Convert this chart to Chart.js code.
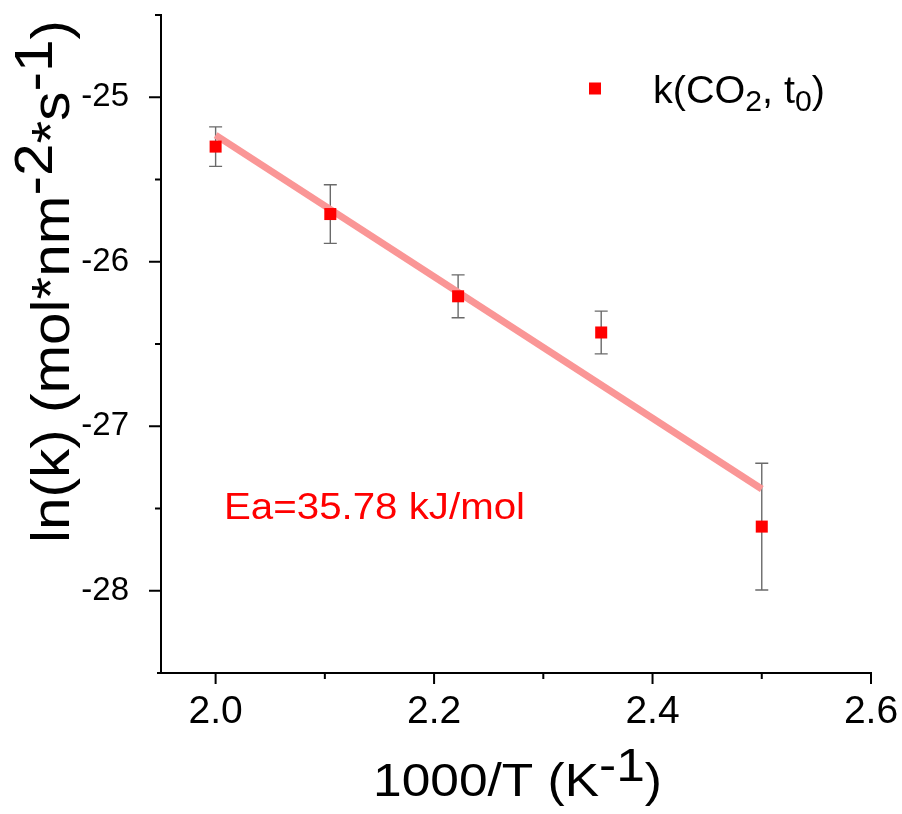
<!DOCTYPE html>
<html>
<head>
<meta charset="utf-8">
<script src="https://cdn.jsdelivr.net/npm/chart.js@4.4.1/dist/chart.umd.min.js"></script>
<style>
  html, body { margin: 0; padding: 0; background: #ffffff; }
  #chart { display: block; }
</style>
</head>
<body>
<canvas id="chart" width="902" height="814"></canvas>
<script>
// Arrhenius plot: ln(k) of CO2 rate constant vs inverse temperature
const inverseTemperature = [2.0, 2.105, 2.222, 2.353, 2.5];      // 1000/T (K^-1)
const lnRate = [-25.30, -25.71, -26.21, -26.43, -27.61];         // ln(k)
const lnRateError = [0.12, 0.178, 0.13, 0.13, 0.385];            // error bar half-widths

// Linear fit: activation energy sets the slope
const activationEnergy = 35.78;   // kJ/mol
const gasConstant = 8.314;        // J/(mol K)
const fitRange = [2.0, 2.5];
const fitStartValue = -25.23;

const xTickValues = [2.0, 2.2, 2.4, 2.6];
const xMinorTicks = [2.1, 2.3, 2.5];
const yTickValues = [-25, -26, -27, -28];
const yMinorTicks = [-24.5, -25.5, -26.5, -27.5];

const seriesLabel = [{ t: 'k(CO' }, { t: '2', sub: true }, { t: ', t' }, { t: '0', sub: true }, { t: ')' }];
const eaLabel = 'Ea=' + activationEnergy.toFixed(2) + ' kJ/mol';
const xTitle = [{ t: '1000/T (K' }, { t: '-1', sup: true }, { t: ')' }];
const yTitle = [{ t: 'ln(k) (mol*nm' }, { t: '-2', sup: true }, { t: '*s' }, { t: '-1', sup: true }, { t: ')' }];

const FONT = '"Liberation Sans", Arial, Helvetica, sans-serif';
const slope = -activationEnergy / gasConstant;   // d ln(k) / d(1000/T)
const fitPoints = fitRange.map(x => ({ x: x, y: fitStartValue + slope * (x - fitRange[0]) }));
const points = inverseTemperature.map((x, i) => ({ x: x, y: lnRate[i] }));

// Draws text made of plain / superscript / subscript pieces, squeezed or
// stretched horizontally so it spans the given width.
function drawRich(ctx, parts, size, width, color) {
  const pieceFont = p => (p.sub ? Math.round(size * 0.75) : size) + 'px ' + FONT;
  let natural = 0;
  parts.forEach(p => { ctx.font = pieceFont(p); natural += ctx.measureText(p.t).width; });
  ctx.save();
  ctx.scale(width / natural, 1);
  ctx.fillStyle = color;
  ctx.textBaseline = 'alphabetic';
  ctx.textAlign = 'left';
  let x = 0;
  parts.forEach(p => {
    ctx.font = pieceFont(p);
    const dy = p.sup ? -size * 0.33 : (p.sub ? size * 0.2 : 0);
    ctx.fillText(p.t, x, dy);
    x += ctx.measureText(p.t).width;
  });
  ctx.restore();
}

// keep the plot frame where the layout padding puts it
function fixScaleBox(size) {
  return s => {
    if (s.isHorizontal()) s.height = size; else s.width = size;
    s.paddingTop = 0; s.paddingBottom = 0; s.paddingLeft = 0; s.paddingRight = 0;
  };
}

const errorBars = {
  id: 'errorBars',
  beforeDatasetsDraw(chart) {
    const ctx = chart.ctx;
    const yScale = chart.scales.y;
    const meta = chart.getDatasetMeta(1);
    ctx.save();
    ctx.strokeStyle = '#6a6a6a';
    ctx.lineWidth = 1.4;
    meta.data.forEach((pt, i) => {
      const top = yScale.getPixelForValue(lnRate[i] + lnRateError[i]);
      const bot = yScale.getPixelForValue(lnRate[i] - lnRateError[i]);
      const cap = 6.5;
      ctx.beginPath();
      ctx.moveTo(pt.x, top); ctx.lineTo(pt.x, bot);
      ctx.moveTo(pt.x - cap, top); ctx.lineTo(pt.x + cap, top);
      ctx.moveTo(pt.x - cap, bot); ctx.lineTo(pt.x + cap, bot);
      ctx.stroke();
    });
    ctx.restore();
  }
};

const axisDecor = {
  id: 'axisDecor',
  afterDraw(chart) {
    const ctx = chart.ctx;
    const xs = chart.scales.x, ys = chart.scales.y;
    const area = chart.chartArea;
    ctx.save();
    ctx.strokeStyle = '#000';
    ctx.lineWidth = 2;
    ctx.beginPath();
    xTickValues.forEach(v => { const p = xs.getPixelForValue(v); ctx.moveTo(p, area.bottom); ctx.lineTo(p, area.bottom + 11); });
    xMinorTicks.forEach(v => { const p = xs.getPixelForValue(v); ctx.moveTo(p, area.bottom); ctx.lineTo(p, area.bottom + 6); });
    yTickValues.forEach(v => { const p = ys.getPixelForValue(v); ctx.moveTo(area.left, p); ctx.lineTo(area.left - 12, p); });
    yMinorTicks.forEach(v => { const p = ys.getPixelForValue(v); ctx.moveTo(area.left, p); ctx.lineTo(area.left - 6, p); });
    // x axis line runs a little past the y axis
    ctx.moveTo(area.left - 4, area.bottom); ctx.lineTo(area.left, area.bottom);
    ctx.stroke();

    // legend entry
    ctx.fillStyle = '#ff0000';
    ctx.fillRect(589, 82.5, 12, 12);
    ctx.save(); ctx.translate(653, 103); drawRich(ctx, seriesLabel, 38, 172, '#000'); ctx.restore();

    // activation energy note
    ctx.save(); ctx.translate(224, 519); drawRich(ctx, [{ t: eaLabel }], 37, 301, '#ff0000'); ctx.restore();

    // axis titles
    ctx.save(); ctx.translate(373, 796); drawRich(ctx, xTitle, 46, 289, '#000'); ctx.restore();
    ctx.save(); ctx.translate(69, 543); ctx.rotate(-Math.PI / 2); drawRich(ctx, yTitle, 53, 523, '#000'); ctx.restore();
    ctx.restore();
  }
};

new Chart(document.getElementById('chart'), {
  type: 'scatter',
  data: {
    datasets: [
      {
        label: 'Linear fit',
        type: 'line',
        data: fitPoints,
        borderColor: 'rgba(250, 150, 150, 1)',
        borderWidth: 7,
        pointRadius: 0,
        fill: false,
        order: 2
      },
      {
        label: 'k(CO2, t0)',
        data: points,
        pointStyle: 'rect',
        pointRadius: 8.5,
        pointHoverRadius: 8.5,
        backgroundColor: '#ff0000',
        borderWidth: 0,
        order: 1
      }
    ]
  },
  options: {
    responsive: false,
    devicePixelRatio: 1,
    animation: false,
    layout: { padding: { top: 15, right: 31, left: 0, bottom: 0 } },
    plugins: { legend: { display: false }, tooltip: { enabled: false } },
    scales: {
      x: {
        type: 'linear',
        min: 1.95,
        max: 2.6,
        afterBuildTicks: s => { s.ticks = xTickValues.map(v => ({ value: v })); },
        afterFit: fixScaleBox(141),
        grid: { display: false },
        border: { display: true, color: '#000', width: 2 },
        ticks: {
          callback: v => Number(v).toFixed(1),
          font: { family: FONT, size: 39 },
          color: '#000',
          padding: 8,
          maxRotation: 0,
          autoSkip: false
        }
      },
      y: {
        type: 'linear',
        min: -28.5,
        max: -24.5,
        afterBuildTicks: s => { s.ticks = yTickValues.map(v => ({ value: v })); },
        afterFit: fixScaleBox(161),
        grid: { display: false },
        border: { display: true, color: '#000', width: 2 },
        ticks: {
          callback: v => String(v),
          font: { family: FONT, size: 33 },
          color: '#000',
          padding: 24
        }
      }
    }
  },
  plugins: [errorBars, axisDecor]
});
</script>
</body>
</html>
